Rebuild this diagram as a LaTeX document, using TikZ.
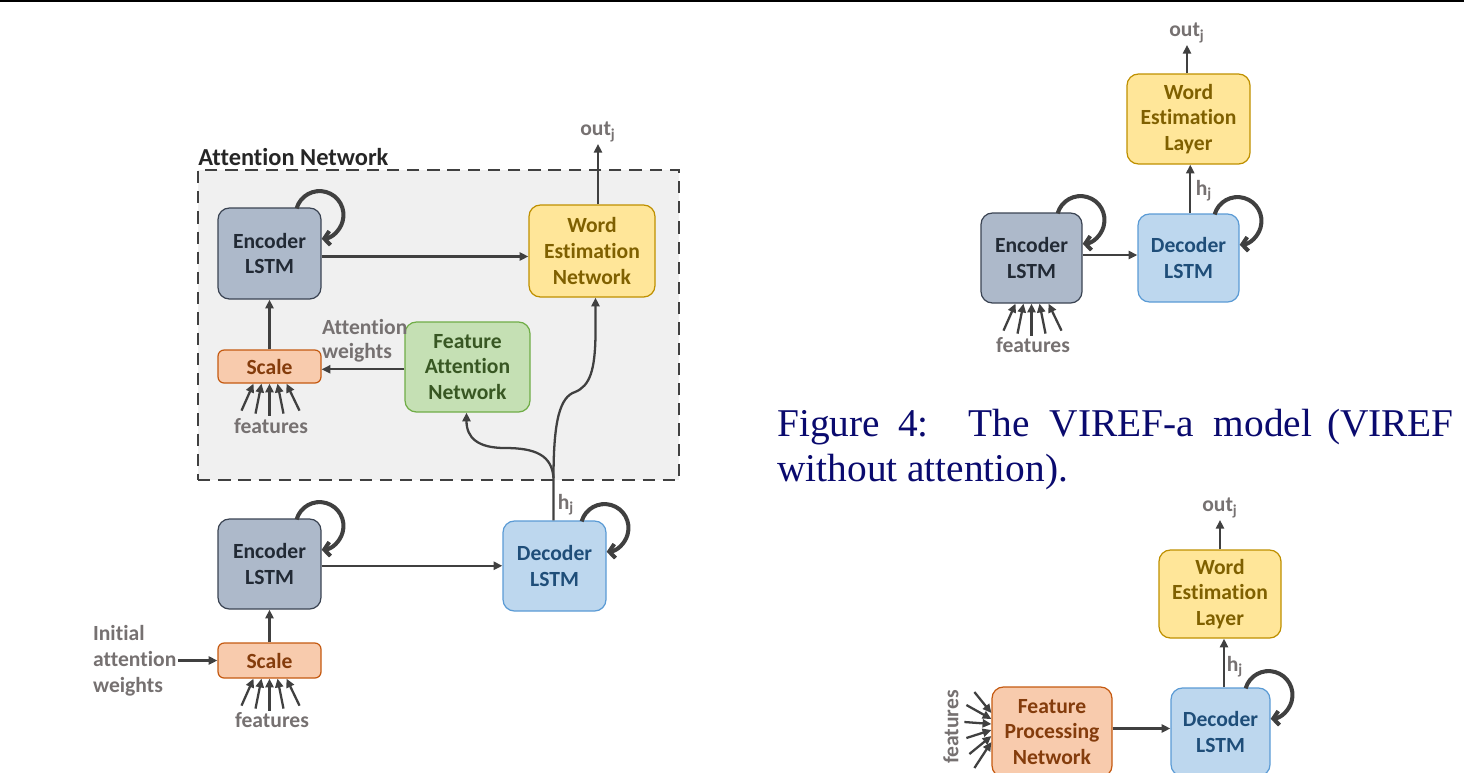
\documentclass[tikz,border=0pt]{standalone}
\usepackage{fontspec}
\setmainfont{Carlito}[Ligatures={NoCommon,NoRequired,NoContextual}]
\newfontfamily\capfont{Liberation Serif}
\usetikzlibrary{arrows.meta,calc}
\definecolor{encfill}{HTML}{ADB9CA}
\definecolor{encdraw}{HTML}{3B4453}
\definecolor{enctext}{HTML}{222A35}
\definecolor{decfill}{HTML}{BDD7EE}
\definecolor{decdraw}{HTML}{5B9BD5}
\definecolor{dectext}{HTML}{1F4E79}
\definecolor{wenfill}{HTML}{FFE699}
\definecolor{wendraw}{HTML}{BF9000}
\definecolor{wentext}{HTML}{7F6000}
\definecolor{fanfill}{HTML}{C5E0B4}
\definecolor{fandraw}{HTML}{70AD47}
\definecolor{fantext}{HTML}{385723}
\definecolor{scfill}{HTML}{F8CBAD}
\definecolor{scdraw}{HTML}{C55A11}
\definecolor{sctext}{HTML}{843C0C}
\definecolor{lbl}{HTML}{767171}
\definecolor{ln}{HTML}{404040}
\definecolor{attfill}{HTML}{F0F0F0}
\definecolor{navy}{RGB}{10,10,110}
\newcommand\bxfont{\fontsize{12.3}{14.7}\selectfont\bfseries}
\tikzset{
  sized/.style 2 args={minimum width=#1*0.02cm, minimum height=#2*0.02cm},
  box/.style={rounded corners=6.5pt, line width=0.7pt, inner sep=0pt, align=center, font=\bxfont},
  enc/.style={box, fill=encfill, draw=encdraw, text=enctext},
  dec/.style={box, fill=decfill, draw=decdraw, text=dectext},
  wen/.style={box, fill=wenfill, draw=wendraw, text=wentext},
  fan/.style={box, fill=fanfill, draw=fandraw, text=fantext},
  scl/.style={box, rounded corners=3.5pt, fill=scfill, draw=scdraw, text=sctext},
  lab/.style={font=\bxfont, text=lbl, inner sep=1pt},
  conn/.style={draw=ln, line width=1.3pt, -{Triangle[length=5pt,width=4.6pt]}},
  loopst/.style={draw=ln, line width=2.3pt, -{Straight Barb[length=3.2pt,width=8pt]}},
}
\newcommand\selfloop[1]{\draw[loopst] ($(#1.north east)+(-25,-1)$) arc[start angle=164,end angle=-85,radius=13.6pt];}
\newcommand\featfan[1]{\foreach \a/\b/\c in {-16/-28/27,-8/-14/30,0/0/32,8/14/30,17/30/27}{\draw[conn] ($(#1.south)+(\b,-\c)$) -- ($(#1.south)+(\a,0)$);}}
\begin{document}
\begin{tikzpicture}[x=0.02cm,y=0.02cm]
\useasboundingbox (0,0) rectangle (1464,-772);
\draw[black, line width=1.2pt] (0,-1) -- (1464,-1);

% ---------- left diagram ----------
\node[draw=ln, fill=attfill, dash pattern=on 7pt off 4.5pt, line width=1.5pt, sized={481}{310}, inner sep=0pt] (attn) at (438.5,-325) {};
\node[anchor=west, font=\fontsize{13.9}{16}\selectfont\bfseries, text=black!85, inner sep=0pt] (attnlab) at (198,-157) {Attention Network};

\node[enc, sized={103}{91}] (encA) at (269.5,-253.5) {Encoder\\LSTM};
\node[wen, sized={126}{92}] (wenA) at (592,-251) {Word\\Estimation\\Network};
\node[scl, sized={103}{33}] (scaleA) at (269.5,-366.5) {Scale};
\node[fan, sized={125}{90}] (fanA) at (467.5,-367) {Feature\\Attention\\Network};
\node[enc, sized={103}{90}] (encB) at (269.5,-564) {Encoder\\LSTM};
\node[dec, sized={103}{90}] (decB) at (554.5,-566) {Decoder\\LSTM};
\node[scl, sized={103}{35}] (scaleB) at (269.5,-660.5) {Scale};

\node[lab] (outA) at (598,-132) {out\textsubscript{j}};
\node[lab] (hjA) at (566,-505) {h\textsubscript{j}};
\node[lab, anchor=west, align=left, font=\fontsize{12.3}{13.8}\selectfont\bfseries] (awA) at (320,-341) {Attention\\weights};
\node[lab] (featA) at (271,-426) {features};
\node[lab, anchor=west, align=left, font=\fontsize{12.3}{14.7}\selectfont\bfseries] (initB) at (91,-661) {Initial\\attention\\weights};
\node[lab] (featB) at (272,-720) {features};

\draw[conn] ([yshift=-1.7pt]encA.east) -- ([yshift=-1.7pt]encA.east -| wenA.west);
\draw[conn] (wenA.north -| outA) -- (outA.south);
\draw[conn] (scaleA.north) -- (encA.south);
\draw[conn] ([yshift=-1.3pt]fanA.west) -- ([yshift=-1.3pt]fanA.west -| scaleA.east);
\featfan{scaleA}
\selfloop{encA}

\coordinate (hjs) at (553.5,-478);
\draw[conn] (decB.north -| hjs) -- (hjs) .. controls (553.5,-420) and (560,-397) .. (575,-392) .. controls (590,-386) and (595,-370) .. (595.5,-335) -- ($(wenA.south)+(3.5,0)$);
\draw[conn] (hjs) .. controls (552,-455) and (535,-448) .. (505,-448) .. controls (478,-448) and (466.5,-438) .. ($(fanA.south)+(-1,0)$);

\draw[conn] ([yshift=-1pt]encB.east) -- ([yshift=-1pt]encB.east -| decB.west);
\draw[conn] (scaleB.north) -- (encB.south);
\draw[conn] (initB.east |- scaleB.west) -- (scaleB.west);
\featfan{scaleB}
\selfloop{encB}
\selfloop{decB}

% ---------- right top diagram ----------
\node[wen, sized={123}{90}] (wenC) at (1188.5,-119) {Word\\Estimation\\Layer};
\node[enc, sized={101}{90}] (encC) at (1031.5,-258) {Encoder\\LSTM};
\node[dec, sized={101}{88}] (decC) at (1188.5,-258) {Decoder\\LSTM};
\node[lab] (outC) at (1187,-33) {out\textsubscript{j}};
\node[lab] (hjC) at (1204,-191) {h\textsubscript{j}};
\node[lab] (featC) at (1033,-345) {features};
\draw[conn] (wenC.north -| outC) -- (outC.south);
\draw[conn] ([xshift=1pt]decC.north) -- ([xshift=1pt]wenC.south);
\draw[conn] ([yshift=1.7pt]encC.east) -- ([yshift=1.7pt]encC.east -| decC.west);
\featfan{encC}
\selfloop{encC}
\selfloop{decC}

% ---------- caption ----------
\node[anchor=base west, inner sep=0pt, font=\capfont\fontsize{22.4}{25.5}\selectfont, text=navy] (cap1) at (777,-436)
  {\makebox[385pt][s]{Figure\hskip 11pt plus 2pt minus 5pt 4:\hskip 24pt plus 2pt minus 8pt The\hskip 12pt plus 2pt minus 5pt VIREF-a\hskip 12pt plus 2pt minus 5pt model\hskip 9pt plus 2pt minus 4pt (VIREF}};
\node[anchor=base west, inner sep=0pt, font=\capfont\fontsize{22.4}{25.5}\selectfont, text=navy] (cap2) at (777,-481)
  {without attention).};

% ---------- right bottom diagram ----------
\node[wen, sized={122}{88}] (wenD) at (1220,-594) {Word\\Estimation\\Layer};
\node[dec, sized={99}{88}] (decD) at (1220.5,-732) {Decoder\\LSTM};
\node[box, fill=scfill, draw=scdraw, text=sctext, sized={120}{90}] (fpnD) at (1052,-732) {Feature\\Processing\\Network};
\node[lab] (outD) at (1220,-508) {out\textsubscript{j}};
\node[lab] (hjD) at (1235,-667) {h\textsubscript{j}};
\node[lab, rotate=90] (featD) at (951,-727) {features};
\draw[conn] (wenD.north -| outD) -- (outD.south);
\draw[conn] ([xshift=2pt]decD.north) -- ([xshift=2pt]decD.north |- wenD.south);
\draw[conn] ([yshift=2pt]fpnD.east) -- ([yshift=2pt]fpnD.east -| decD.west);
\foreach \tx/\ty/\hy in {-17/35/14,-25/22/8,-27/5/3,-25/-11/-3,-22/-27/-9,-17/-41/-15}{
  \draw[conn] ($(fpnD.west)+(\tx,\ty+5)$) -- ($(fpnD.west)+(0,\hy+5)$);
}
\selfloop{decD}
\end{tikzpicture}
\end{document}
